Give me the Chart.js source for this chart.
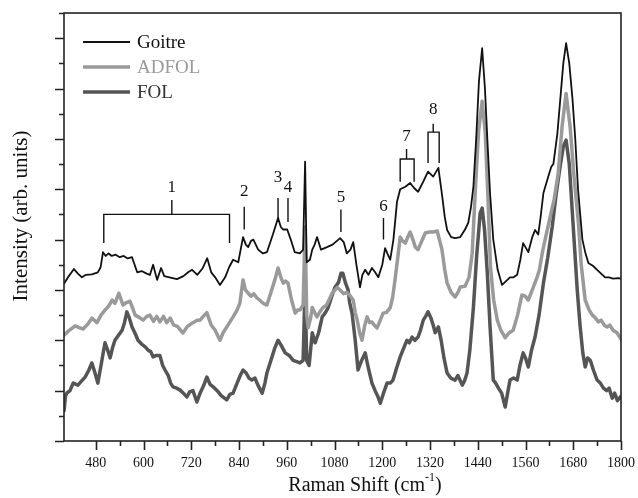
<!DOCTYPE html>
<html>
<head>
<meta charset="utf-8">
<script src="https://cdn.jsdelivr.net/npm/chart.js@4/dist/chart.umd.min.js"></script>
<style>
  html, body { margin: 0; padding: 0; background: #fff; }
</style>
</head>
<body>
<canvas id="spectra" width="638" height="498"></canvas>
<script>
// Raman spectra (offset), wavenumber in cm-1 and intensity in arbitrary units
const seriesNames = ['Goitre', 'ADFOL', 'FOL'];

const goitreX = [400, 412, 425, 435, 445, 455, 470, 485, 492, 498, 505, 512, 520, 530, 540, 550, 560, 571, 584, 595,
  608, 616, 624, 634, 644, 652, 665, 684, 700, 712, 722, 735, 748, 760, 770, 780, 792, 805, 815, 825,
  838, 850, 857, 863, 870, 876, 888, 900, 910, 925, 938, 945, 951, 961, 970, 980, 993, 1001, 1006, 1010,
  1018, 1024, 1030, 1036, 1046, 1061, 1075, 1086, 1094, 1103, 1111, 1120, 1127, 1135, 1144, 1150, 1157, 1165, 1174, 1182,
  1190, 1200, 1207, 1214, 1220, 1228, 1237, 1245, 1258, 1270, 1280, 1290, 1303, 1315, 1328, 1341, 1350, 1357, 1363, 1373,
  1383, 1396, 1408, 1416, 1423, 1429, 1436, 1443, 1451, 1458, 1464, 1471, 1479, 1490, 1501, 1511, 1521, 1530, 1539, 1547,
  1554, 1567, 1577, 1584, 1592, 1598, 1605, 1617, 1625, 1630, 1640, 1647, 1655, 1662, 1670, 1678, 1685, 1692, 1698, 1703,
  1710, 1718, 1730, 1740, 1750, 1760, 1770, 1780, 1793, 1800];
const goitreY = [6.25, 6.55, 6.83, 6.65, 6.5, 6.6, 6.62, 6.7, 6.9, 7.5, 7.35, 7.45, 7.35, 7.4, 7.3, 7.35, 7.25, 7.3, 6.7, 6.75,
  6.65, 6.6, 7.0, 6.4, 6.87, 6.55, 6.5, 6.43, 6.55, 6.7, 6.8, 6.6, 6.85, 7.26, 6.7, 6.5, 6.2, 6.5, 6.9, 7.2,
  7.1, 8.1, 7.8, 7.7, 7.95, 8.0, 7.6, 7.45, 7.5, 8.2, 8.86, 8.5, 8.4, 8.4, 8.0, 7.5, 7.45, 7.6, 11.1, 7.1,
  7.2, 7.6, 7.8, 8.1, 7.6, 7.7, 7.8, 7.95, 8.06, 7.9, 7.45, 7.6, 7.9, 7.0, 6.1, 6.6, 6.8, 6.6, 6.87, 6.7,
  6.5, 7.0, 7.66, 7.4, 7.2, 8.0, 9.5, 10.0, 10.1, 10.25, 10.05, 9.9, 10.3, 10.7, 10.5, 10.85, 9.8, 8.9, 8.38, 8.1,
  8.06, 8.1, 8.4, 8.66, 9.3, 10.1, 12.0, 14.3, 15.6, 14.0, 12.0, 9.8, 8.0, 6.8, 6.2, 6.35, 6.5, 6.5, 6.6, 7.2,
  7.86, 7.5, 8.1, 8.38, 8.2, 8.9, 9.85, 10.5, 10.9, 11.0, 12.2, 13.5, 15.0, 15.8, 15.0, 13.6, 12.0, 10.0, 8.9, 8.0,
  7.5, 7.07, 6.95, 6.8, 6.65, 6.5, 6.5, 6.45, 6.47, 6.45];

const adfolX = [400, 410, 428, 438, 448, 460, 470, 483, 493, 503, 512, 521, 528, 538, 548, 557, 566, 572, 579, 590,
  599, 608, 616, 625, 633, 641, 650, 658, 667, 676, 685, 699, 710, 724, 735, 742, 750, 759, 770, 780,
  792, 800, 812, 825, 835, 842, 850, 856, 863, 870, 877, 884, 895, 903, 910, 920, 930, 938, 945, 951,
  957, 963, 972, 981, 987, 993, 1001, 1006, 1010, 1014, 1020, 1024, 1030, 1036, 1044, 1051, 1060, 1074, 1087, 1094,
  1103, 1111, 1120, 1127, 1132, 1137, 1143, 1149, 1156, 1162, 1168, 1174, 1180, 1187, 1195, 1202, 1210, 1220, 1226, 1232,
  1239, 1245, 1251, 1258, 1264, 1270, 1277, 1283, 1290, 1298, 1308, 1318, 1328, 1338, 1350, 1357, 1363, 1373, 1383, 1390,
  1396, 1408, 1418, 1426, 1434, 1442, 1451, 1459, 1466, 1472, 1480, 1489, 1498, 1509, 1519, 1529, 1540, 1551, 1559, 1567,
  1577, 1589, 1595, 1602, 1612, 1622, 1632, 1642, 1652, 1662, 1672, 1682, 1693, 1700, 1710, 1720, 1728, 1735, 1743, 1750,
  1758, 1765, 1772, 1780, 1790, 1800];
const adfolY = [4.2, 4.35, 4.57, 4.5, 4.45, 4.65, 4.88, 4.7, 5.0, 5.2, 5.35, 5.6, 5.47, 5.87, 5.4, 5.5, 5.55, 5.3, 5.0, 4.9,
  4.8, 4.95, 5.0, 4.75, 4.95, 4.73, 4.95, 4.7, 4.88, 4.6, 4.55, 4.29, 4.55, 4.7, 4.8, 4.8, 4.95, 5.1, 4.6, 4.4,
  4.0, 4.3, 4.6, 4.93, 5.2, 5.47, 6.4, 6.0, 5.87, 5.75, 5.85, 5.7, 5.55, 5.45, 5.4, 5.9, 6.4, 6.87, 6.5, 6.27,
  6.35, 6.27, 5.6, 5.08, 5.2, 5.2, 5.4, 8.5, 5.0, 4.5, 4.9, 5.3, 5.1, 4.93, 5.15, 5.3, 5.4, 5.87, 6.1, 6.0,
  5.85, 5.9, 5.75, 5.6, 5.1, 4.8, 4.3, 4.0, 4.6, 4.93, 4.7, 4.73, 4.6, 4.49, 4.8, 5.08, 5.1, 5.3, 5.7, 6.4,
  7.3, 8.1, 7.95, 7.86, 8.1, 8.3, 8.0, 7.7, 7.6, 7.9, 8.26, 8.3, 8.3, 8.34, 7.6, 6.8, 6.27, 5.9, 5.72, 5.9,
  6.12, 6.15, 6.5, 7.46, 10.0, 12.3, 13.5, 12.2, 9.5, 6.9, 5.6, 4.8, 4.4, 4.1, 4.3, 4.4, 5.0, 5.8, 5.75, 5.6,
  6.0, 6.5, 6.8, 7.46, 8.2, 8.9, 9.6, 10.6, 12.5, 13.8, 12.5, 10.5, 8.66, 7.0, 5.6, 5.2, 5.0, 4.9, 4.73, 4.8,
  4.6, 4.53, 4.6, 4.4, 4.3, 4.05];

const folX = [400, 404, 407, 415, 423, 435, 445, 453, 462, 470, 478, 485, 493, 503, 510, 516, 522, 528, 537, 546,
  552, 558, 564, 571, 578, 586, 595, 604, 612, 618, 624, 632, 641, 648, 654, 662, 668, 674, 683, 692,
  700, 709, 716, 724, 734, 742, 751, 759, 767, 775, 785, 795, 809, 817, 825, 835, 843, 850, 858, 865,
  872, 880, 888, 898, 905, 910, 920, 930, 938, 946, 956, 966, 976, 985, 993, 1001, 1006, 1010, 1016, 1024,
  1031, 1040, 1049, 1057, 1064, 1072, 1081, 1090, 1096, 1101, 1107, 1114, 1118, 1124, 1132, 1139, 1148, 1157, 1165, 1174,
  1182, 1188, 1195, 1203, 1212, 1220, 1227, 1236, 1245, 1254, 1262, 1268, 1275, 1282, 1290, 1296, 1303, 1309, 1315, 1322,
  1328, 1333, 1341, 1348, 1355, 1363, 1372, 1383, 1390, 1401, 1407, 1413, 1420, 1429, 1437, 1446, 1451, 1457, 1464, 1471,
  1479, 1485, 1492, 1500, 1509, 1515, 1521, 1530, 1539, 1546, 1554, 1560, 1567, 1575, 1584, 1594, 1605, 1616, 1627, 1637,
  1647, 1655, 1662, 1670, 1678, 1684, 1690, 1697, 1704, 1710, 1716, 1723, 1731, 1740, 1748, 1756, 1764, 1770, 1778, 1784,
  1791, 1798, 1800];
const folY = [1.2, 1.8, 1.9, 2.0, 2.3, 2.22, 2.4, 2.54, 2.8, 3.1, 2.7, 2.3, 3.0, 3.9, 3.6, 3.3, 3.7, 4.0, 4.2, 4.4,
  4.7, 5.13, 4.9, 4.53, 4.3, 4.0, 3.85, 3.74, 3.6, 3.55, 3.34, 3.4, 3.4, 3.0, 2.82, 2.6, 2.3, 2.15, 2.1, 2.02,
  1.9, 1.75, 1.95, 2.0, 1.55, 1.9, 2.2, 2.54, 2.25, 2.15, 2.0, 1.8, 1.63, 1.85, 1.9, 2.3, 2.6, 2.82, 2.7, 2.5,
  2.42, 2.5, 2.2, 1.9, 2.3, 2.7, 3.2, 3.7, 4.0, 3.8, 3.5, 3.4, 3.2, 3.15, 3.1, 3.2, 6.2, 3.2, 3.0, 4.3,
  3.9, 4.3, 4.93, 5.1, 5.3, 5.7, 6.1, 6.3, 6.66, 6.66, 6.3, 6.0, 5.5, 5.08, 4.0, 2.82, 3.2, 3.5, 2.9, 2.3,
  2.0, 1.8, 1.5, 1.9, 2.3, 2.3, 2.42, 2.9, 3.34, 3.7, 4.0, 3.9, 4.13, 4.0, 4.13, 4.4, 4.8, 4.95, 5.13, 4.9,
  4.6, 4.3, 4.53, 4.0, 3.3, 2.7, 2.5, 2.42, 2.6, 2.22, 2.4, 2.7, 3.6, 5.3, 7.3, 9.05, 9.25, 8.4, 6.66, 4.5,
  2.42, 2.3, 2.1, 1.9, 1.35, 1.9, 2.42, 2.5, 2.42, 3.0, 3.5, 3.3, 2.94, 3.6, 4.13, 5.0, 6.27, 7.3, 8.5, 9.8,
  10.9, 11.7, 11.95, 11.0, 9.0, 7.5, 6.0, 4.6, 3.5, 2.94, 3.3, 3.2, 2.8, 2.42, 2.3, 2.1, 2.0, 2.1, 1.7, 1.9,
  1.6, 1.75, 1.7];

// band assignments: legs (x1..x2), bar height, stem/line top, number position
const bandLabels = ['1', '2', '3', '4', '5', '6', '7', '8'];
const bandX1 = [500, 853, 938, 963, 1096, 1203, 1245, 1315];
const bandX2 = [816, 853, 938, 963, 1096, 1203, 1280, 1343];
const bandStemX = [671, 853, 938, 963, 1096, 1203, 1261, 1328];
const bandLow = [7.86, 8.4, 8.7, 8.7, 8.3, 8.0, 10.3, 11.04];
const bandBar = [9.0, null, null, null, null, null, 11.2, 12.27];
const bandHigh = [9.57, 9.3, 9.65, 9.65, 9.2, 8.86, 11.6, 12.6];
const bandTextY = [10.05, 9.9, 10.47, 10.05, 9.67, 9.33, 12.1, 13.15];

const xTicksStep = 60;
const xLabelStep = 120;

const serif = "'Liberation Serif', 'Times New Roman', serif";

const pts = (xs, ys) => xs.map((x, i) => ({x: x, y: ys[i]}));

const decorations = {
  id: 'decorations',
  afterDatasetsDraw(chart) {
    const {ctx, scales: {x, y}} = chart;
    ctx.save();
    ctx.strokeStyle = '#111';
    ctx.lineWidth = 1.4;
    ctx.beginPath();
    bandLabels.forEach((lab, i) => {
      const x1 = x.getPixelForValue(bandX1[i]);
      const x2 = x.getPixelForValue(bandX2[i]);
      const xs = x.getPixelForValue(bandStemX[i]);
      const lo = y.getPixelForValue(bandLow[i]);
      const hi = y.getPixelForValue(bandHigh[i]);
      if (bandBar[i] === null) {
        ctx.moveTo(x1, lo); ctx.lineTo(x1, hi);
      } else {
        const bar = y.getPixelForValue(bandBar[i]);
        ctx.moveTo(x1, lo); ctx.lineTo(x1, bar); ctx.lineTo(x2, bar); ctx.lineTo(x2, lo);
        ctx.moveTo(xs, bar); ctx.lineTo(xs, hi);
      }
    });
    ctx.stroke();
    ctx.fillStyle = '#111';
    ctx.font = '17px ' + serif;
    ctx.textAlign = 'center';
    ctx.textBaseline = 'middle';
    bandLabels.forEach((lab, i) => {
      ctx.fillText(lab, x.getPixelForValue(bandStemX[i]), y.getPixelForValue(bandTextY[i]));
    });
    ctx.restore();
  },
  afterDraw(chart) {
    const {ctx, chartArea: a, scales: {x, y}} = chart;
    ctx.save();

    // box and tick marks
    ctx.strokeStyle = '#222';
    ctx.lineWidth = 1.6;
    ctx.strokeRect(a.left, a.top, a.right - a.left, a.bottom - a.top);
    ctx.beginPath();
    x.ticks.forEach(t => {
      if (t.value % xTicksStep !== 0) return;
      const px = Math.round(x.getPixelForValue(t.value)) + 0.5;
      const len = t.value % xLabelStep === 0 ? 9 : 5;
      ctx.moveTo(px, a.bottom); ctx.lineTo(px, a.bottom + len);
    });
    y.ticks.forEach(t => {
      const py = Math.round(y.getPixelForValue(t.value)) + 0.5;
      const len = t.value % 2 === 0 ? 9 : 5;
      ctx.moveTo(a.left, py); ctx.lineTo(a.left - len, py);
    });
    ctx.stroke();

    // legend in the upper left corner
    ctx.font = '19px ' + serif;
    ctx.textAlign = 'left';
    ctx.textBaseline = 'middle';
    chart.data.datasets.forEach((ds, i) => {
      const yy = a.top + 29 + i * 25;
      ctx.strokeStyle = ds.borderColor;
      ctx.lineWidth = ds.borderWidth;
      ctx.beginPath();
      ctx.moveTo(a.left + 19, yy); ctx.lineTo(a.left + 66, yy);
      ctx.stroke();
      ctx.fillStyle = ds.legendText;
      ctx.fillText(ds.label, a.left + 73, yy + 1);
    });

    // axis titles
    ctx.fillStyle = '#111';
    ctx.font = '20px ' + serif;
    ctx.textBaseline = 'middle';
    const main = 'Raman Shift (cm';
    const sup = '-1';
    const wMain = ctx.measureText(main).width;
    const wClose = ctx.measureText(')').width;
    ctx.font = '12px ' + serif;
    const wSup = ctx.measureText(sup).width;
    let tx = 365 - (wMain + wSup + wClose) / 2;
    const ty = 486;
    ctx.font = '20px ' + serif;
    ctx.fillText(main, tx, ty);
    tx += wMain;
    ctx.font = '12px ' + serif;
    ctx.fillText(sup, tx, ty - 8);
    tx += wSup;
    ctx.font = '20px ' + serif;
    ctx.fillText(')', tx, ty);

    ctx.font = '21px ' + serif;
    ctx.translate(21, 216);
    ctx.rotate(-Math.PI / 2);
    ctx.textAlign = 'center';
    ctx.fillText('Intensity (arb. units)', 0, 0);
    ctx.restore();
  }
};

new Chart(document.getElementById('spectra'), {
  type: 'line',
  data: {
    datasets: [
      {label: seriesNames[0], data: pts(goitreX, goitreY), borderColor: '#111111', legendText: '#111111', borderWidth: 1.8},
      {label: seriesNames[1], data: pts(adfolX, adfolY), borderColor: '#9a9a9a', legendText: '#9a9a9a', borderWidth: 3.5},
      {label: seriesNames[2], data: pts(folX, folY), borderColor: '#555555', legendText: '#333333', borderWidth: 3.5}
    ]
  },
  options: {
    responsive: false,
    animation: false,
    layout: {padding: {left: 10, top: 13, right: 17, bottom: 0}},
    elements: {
      point: {radius: 0},
      line: {tension: 0, borderJoinStyle: 'round', borderCapStyle: 'round'}
    },
    plugins: {
      legend: {display: false},
      tooltip: {enabled: false}
    },
    scales: {
      x: {
        type: 'linear',
        min: 400,
        max: 1800,
        ticks: {
          stepSize: xTicksStep,
          autoSkip: false,
          maxRotation: 0,
          padding: 14,
          color: '#111',
          font: {family: serif, size: 14},
          callback: v => (v % xLabelStep === 0 ? v : '')
        },
        grid: {display: false, drawTicks: false},
        border: {display: false},
        // the "1800" label may hang over the right edge, so no extra room is kept for it
        afterFit: s => { s.height = 57; s.paddingLeft = 0; s.paddingRight = 0; }
      },
      y: {
        min: 0,
        max: 17,
        ticks: {stepSize: 1, display: false},
        grid: {display: false, drawTicks: false},
        border: {display: false},
        afterFit: s => { s.width = 54; }
      }
    }
  },
  plugins: [decorations]
});
</script>
</body>
</html>
